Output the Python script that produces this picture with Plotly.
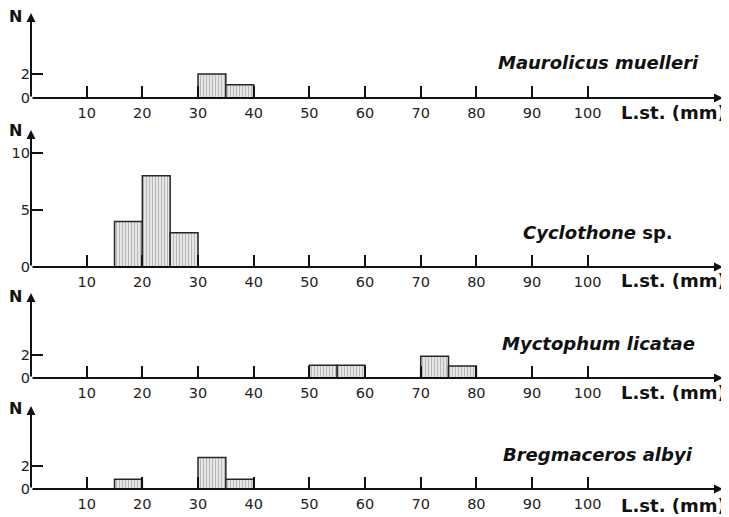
import plotly.graph_objects as go

W, H = 729, 517
OFF = 8  # page body margin; positions below are page pixels

# ---- data ----
bin_width = 5
x_ticks = [10, 20, 30, 40, 50, 60, 70, 80, 90, 100]

maur_x = [32.5, 37.5]
maur_n = [2, 1.1]

cyc_x = [17.5, 22.5, 27.5]
cyc_n = [4, 8, 3]

myc_x = [52.5, 57.5, 72.5, 77.5]
myc_n = [1.1, 1.1, 1.9, 1.05]

breg_x = [17.5, 32.5, 37.5]
breg_n = [0.85, 2.75, 0.85]

species = ["<b><i>Maurolicus muelleri</i></b>",
           "<b><i>Cyclothone</i> sp.</b>",
           "<b><i>Myctophum licatae</i></b>",
           "<b><i>Bregmaceros albyi</i></b>"]
y_tick_sets = [[0, 2], [0, 5, 10], [0, 2], [0, 2]]
x_label = "L.st. (mm)"


def px_x(p):
    return (p - OFF) / W


def px_y(p):
    return 1 - (p - OFF) / H


# ---- layout geometry (page pixels) ----
x0_px, xend_px, px_per_unit = 31, 723, 5.567
x_max = (xend_px - x0_px) / px_per_unit

panels = [
    dict(xs=maur_x, ns=maur_n, base=98, top=13, ppu=12.0, sy=62, ny=16, ly=112),
    dict(xs=cyc_x, ns=cyc_n, base=267, top=130, ppu=11.4, sy=232, ny=131, ly=280),
    dict(xs=myc_x, ns=myc_n, base=378, top=293, ppu=11.5, sy=343, ny=296, ly=392),
    dict(xs=breg_x, ns=breg_n, base=489, top=406, ppu=11.5, sy=454, ny=408, ly=505),
]

FONT = "DejaVu Sans"
fig = go.Figure()
annotations = []
layout_axes = {}

for i, p in enumerate(panels):
    k = "" if i == 0 else str(i + 1)
    xa, ya = "x" + k, "y" + k
    y_top = (p["base"] - p["top"]) / p["ppu"]
    fig.add_trace(go.Bar(
        x=p["xs"], y=p["ns"], width=bin_width, xaxis=xa, yaxis=ya,
        marker=dict(color="#e0e0e0",
                    line=dict(color="#262626", width=1.5),
                    pattern=dict(shape="|", fgcolor="#858585", bgcolor="#ececec",
                                 size=3, solidity=0.42)),
        showlegend=False, hoverinfo="skip"))
    layout_axes["xaxis" + k] = dict(
        domain=[px_x(x0_px), px_x(xend_px)], range=[0, x_max], anchor=ya,
        tickvals=x_ticks, ticktext=[str(v) for v in x_ticks],
        ticks="inside", ticklen=12, tickwidth=2, tickcolor="#111",
        showline=False, showgrid=False, zeroline=False, automargin=False,
        tickfont=dict(family=FONT, size=14.5, color="#222"),
        ticklabelstandoff=4)
    layout_axes["yaxis" + k] = dict(
        domain=[px_y(p["base"]), px_y(p["top"])], range=[0, y_top], anchor=xa,
        tickvals=y_tick_sets[i], ticktext=[str(v) for v in y_tick_sets[i]],
        ticks="inside", ticklen=12, tickwidth=2, tickcolor="#111",
        showline=False, showgrid=False, zeroline=False, automargin=False,
        tickfont=dict(family=FONT, size=14.5, color="#222"))
    annotations.append(dict(x=x_max, y=0, xref=xa, yref=ya, ax=0, ay=0,
                            axref=xa, ayref=ya, text="", showarrow=True,
                            arrowhead=2, arrowsize=0.9, arrowwidth=2,
                            arrowcolor="#111", standoff=0, startstandoff=0))
    annotations.append(dict(x=0, y=y_top, xref=xa, yref=ya, ax=0, ay=0,
                            axref=xa, ayref=ya, text="", showarrow=True,
                            arrowhead=2, arrowsize=0.9, arrowwidth=2,
                            arrowcolor="#111", standoff=0, startstandoff=0))
    annotations.append(dict(x=px_x(598), y=px_y(p["sy"]), xref="paper", yref="paper",
                            text=species[i], showarrow=False,
                            font=dict(family=FONT, size=18, color="#111"),
                            xanchor="center", yanchor="middle"))
    annotations.append(dict(x=px_x(15), y=px_y(p["ny"]), xref="paper", yref="paper",
                            text="<b>N</b>", showarrow=False,
                            font=dict(family=FONT, size=16, color="#111"),
                            xanchor="center", yanchor="middle"))
    annotations.append(dict(x=px_x(728), y=px_y(p["ly"]), xref="paper", yref="paper",
                            text="<b>" + x_label + "</b>", showarrow=False,
                            font=dict(family=FONT, size=18, color="#111"),
                            xanchor="right", yanchor="middle"))

fig.update_layout(
    width=W, height=H,
    margin=dict(l=0, r=0, t=0, b=0),
    paper_bgcolor="white", plot_bgcolor="white",
    annotations=annotations,
    **layout_axes)

fig.write_html("out.html")
